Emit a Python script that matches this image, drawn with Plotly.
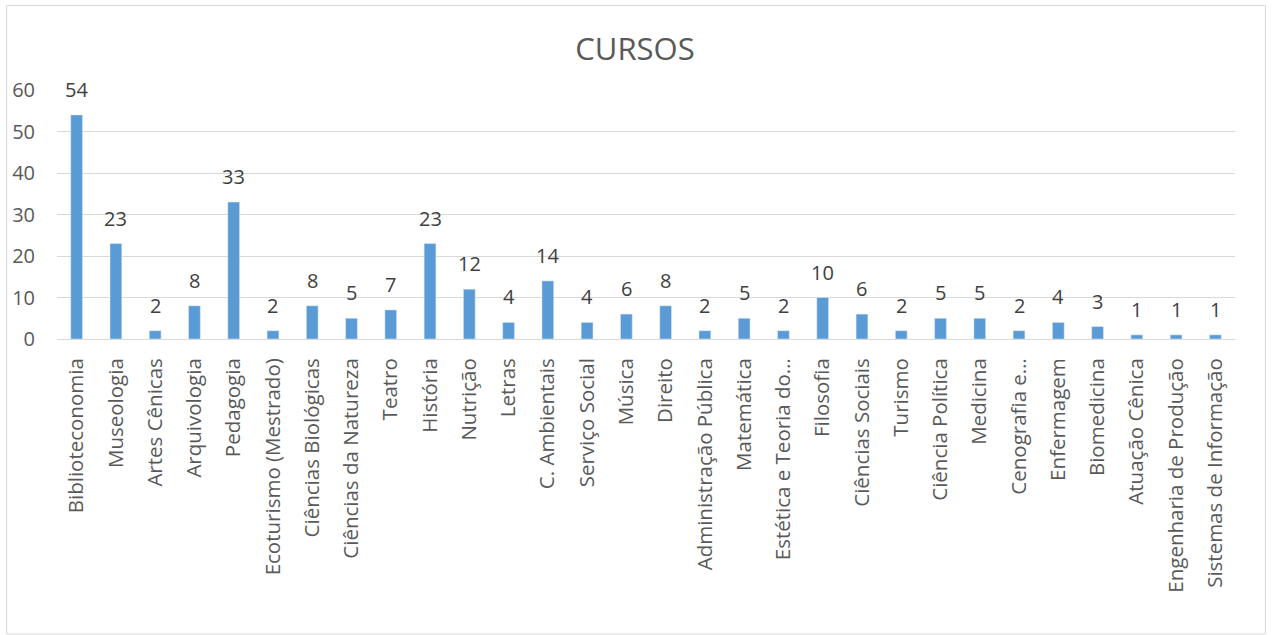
import plotly.graph_objects as go

categories = [
    "Biblioteconomia", "Museologia", "Artes Cênicas", "Arquivologia", "Pedagogia",
    "Ecoturismo (Mestrado)", "Ciências Biológicas", "Ciências da Natureza", "Teatro",
    "História", "Nutrição", "Letras", "C. Ambientais", "Serviço Social", "Música",
    "Direito", "Administração Pública", "Matemática", "Estética e Teoria do…",
    "Filosofia", "Ciências Sociais", "Turismo", "Ciência Política", "Medicina",
    "Cenografia e…", "Enfermagem", "Biomedicina", "Atuação Cênica",
    "Engenharia de Produção", "Sistemas de Informação",
]
values = [54, 23, 2, 8, 33, 2, 8, 5, 7, 23, 12, 4, 14, 4, 6, 8, 2, 5, 2, 10, 6, 2, 5, 5, 2, 4, 3, 1, 1, 1]
y_ticks = [0, 10, 20, 30, 40, 50, 60]

W, H = 1273, 635
L, R, T, B = 54, 38, 90, 296
FONT = "Open Sans"
GRAY = "#595959"

fig = go.Figure()
fig.add_trace(go.Bar(
    x=categories, y=values, marker_color="#5B9BD5", width=0.3,
    hoverinfo="x+y",
))

for c, v in zip(categories, values):
    fig.add_annotation(x=c, y=v, text=str(v), showarrow=False, yanchor="bottom",
                       yshift=10, font=dict(family=FONT, size=20, color="#404040"))

def px(x):
    return (x - L) / (W - L - R)

def py(y):
    return (H - B - y) / (H - T - B)

fig.add_shape(type="rect", xref="paper", yref="paper",
              x0=px(3.5), x1=px(1265.5), y0=py(634), y1=py(5.5),
              line=dict(color="#D9D9D9", width=1), layer="below")

fig.update_layout(
    width=W, height=H, autosize=False,
    margin=dict(l=L, r=R, t=T, b=B, pad=0),
    paper_bgcolor="white", plot_bgcolor="white",
    title=dict(text="CURSOS", x=635 / W, xref="container", xanchor="center",
               y=1 - 49 / H, yanchor="middle",
               font=dict(family=FONT, size=31, color=GRAY)),
    font=dict(family=FONT, color=GRAY),
    showlegend=False, bargap=0.7,
)
fig.update_xaxes(
    tickangle=-90, tickfont=dict(family=FONT, size=20.5, color=GRAY),
    showline=True, linecolor="#D9D9D9", linewidth=1, ticks="", showgrid=False,
    ticklabelstandoff=10,
)
fig.update_yaxes(
    range=[0, 60], tickvals=y_ticks, tickfont=dict(family=FONT, size=20, color=GRAY),
    showgrid=True, gridcolor="#D9D9D9", gridwidth=1, zeroline=False, showline=False,
    ticklabelstandoff=21,
)

fig.write_html("out.html", config={"displayModeBar": False},
               post_script="document.body.style.margin='0';")
